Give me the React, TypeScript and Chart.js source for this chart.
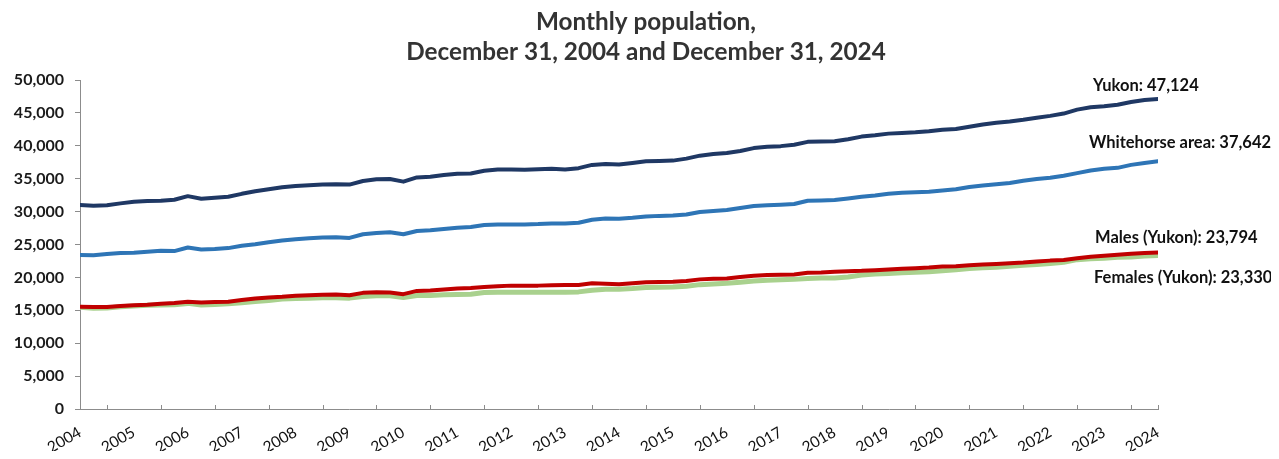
import React, { useEffect, useRef } from "react";
import { Chart, registerables } from "chart.js";

Chart.register(...registerables);

// Quarterly readings, Dec 2004 .. Dec 2024 (81 points, 3 months apart)
const FIRST_YEAR = 2004;
const LAST_YEAR = 2024;
const MONTHS_PER_POINT = 3;

const yukon = [
  31000, 30900, 30950, 31250, 31500, 31600, 31650, 31800, 32350, 31950,
  32100, 32250, 32700, 33100, 33400, 33700, 33900, 34000, 34100, 34150,
  34100, 34650, 34900, 34950, 34550, 35200, 35300, 35550, 35750, 35800,
  36200, 36400, 36400, 36350, 36450, 36500, 36400, 36600, 37100, 37250,
  37150, 37400, 37650, 37700, 37750, 38050, 38500, 38750, 38900, 39200,
  39650, 39850, 39950, 40150, 40600, 40650, 40700, 41000, 41400, 41600,
  41850, 41950, 42050, 42200, 42450, 42550, 42900, 43250, 43500, 43700,
  43950, 44250, 44550, 44900, 45500, 45850, 46000, 46250, 46650, 46950,
  47124,
];

const whitehorse = [
  23400, 23350, 23550, 23700, 23750, 23900, 24050, 24000, 24550, 24250,
  24300, 24450, 24800, 25050, 25350, 25600, 25800, 25950, 26050, 26100,
  26000, 26550, 26750, 26850, 26550, 27050, 27150, 27350, 27550, 27650,
  27950, 28050, 28050, 28050, 28100, 28200, 28200, 28300, 28750, 28950,
  28900, 29050, 29250, 29350, 29400, 29550, 29950, 30100, 30250, 30550,
  30850, 30950, 31050, 31150, 31650, 31700, 31750, 32000, 32250, 32450,
  32700, 32850, 32950, 33000, 33200, 33400, 33750, 33950, 34150, 34350,
  34700, 34950, 35150, 35450, 35850, 36250, 36500, 36650, 37100, 37400,
  37642,
];

const males = [
  15550, 15500, 15500, 15650, 15750, 15850, 16000, 16100, 16300, 16200,
  16250, 16300, 16550, 16800, 16950, 17050, 17200, 17300, 17350, 17400,
  17300, 17650, 17750, 17700, 17450, 17950, 18000, 18150, 18300, 18400,
  18550, 18650, 18750, 18750, 18750, 18800, 18850, 18850, 19100, 19050,
  18950, 19100, 19250, 19300, 19350, 19450, 19700, 19800, 19850, 20050,
  20250, 20350, 20400, 20450, 20700, 20750, 20850, 20950, 21000, 21100,
  21200, 21300, 21400, 21500, 21650, 21700, 21850, 21950, 22050, 22150,
  22250, 22400, 22550, 22650, 22900, 23150, 23300, 23450, 23600, 23700,
  23794,
];

const females = [
  15450, 15300, 15350, 15550, 15650, 15750, 15800, 15850, 16050, 15800,
  15900, 16000, 16150, 16350, 16500, 16700, 16800, 16850, 16900, 16900,
  16850, 17100, 17200, 17200, 16950, 17250, 17250, 17350, 17400, 17450,
  17700, 17750, 17750, 17750, 17750, 17750, 17750, 17800, 18050, 18200,
  18200, 18300, 18450, 18500, 18550, 18650, 18900, 19000, 19100, 19250,
  19450, 19550, 19650, 19700, 19850, 19900, 19900, 20050, 20350, 20500,
  20600, 20700, 20800, 20850, 21000, 21150, 21350, 21450, 21550, 21700,
  21850, 21950, 22100, 22300, 22700, 22850, 22900, 23050, 23100, 23250,
  23330,
];

const seriesNames = ["Yukon", "Whitehorse area", "Males (Yukon)", "Females (Yukon)"];
const seriesValues = [yukon, whitehorse, males, females];
const seriesColors = ["#1F3864", "#2E75B6", "#C00000", "#A9D18E"];
const seriesWidths = [4, 4, 4, 5];
// label offsets from each series' last point (px)
const labelOffsets = [
  { dx: -65, dy: -13 },
  { dx: -69, dy: -19 },
  { dx: -63, dy: -15 },
  { dx: -64, dy: 22 },
];

const titleLines = ["Monthly population,", "December 31, 2004 and December 31, 2024"];

const fmt = (v: number) => v.toLocaleString("en-US");

const titlePlugin = {
  id: "customTitle",
  afterDraw(chart: any) {
    const { ctx } = chart;
    ctx.save();
    ctx.font = "bold 24.3px Lato";
    ctx.fillStyle = "#333333";
    ctx.textAlign = "center";
    ctx.textBaseline = "alphabetic";
    ctx.fillText(titleLines[0], 638, 22);
    ctx.fillText(titleLines[1], 638, 52);
    ctx.restore();
  },
};

const axisMarksPlugin = {
  id: "axisMarks",
  afterDraw(chart: any) {
    const { ctx, chartArea } = chart;
    const x = chart.scales.x;
    ctx.save();
    ctx.strokeStyle = "#8c8c8c";
    ctx.lineWidth = 1;
    ctx.beginPath();
    const years = LAST_YEAR - FIRST_YEAR;
    const positions: number[] = [];
    for (let k = 0; k < years; k++) positions.push(6 + 12 * k);
    positions.push(years * 12);
    for (const v of positions) {
      const px = Math.round(x.getPixelForValue(v)) + 0.5;
      ctx.moveTo(px, chartArea.bottom - 4);
      ctx.lineTo(px, chartArea.bottom);
    }
    ctx.stroke();
    ctx.restore();
  },
};

const endLabelPlugin = {
  id: "endLabels",
  afterDatasetsDraw(chart: any) {
    const { ctx } = chart;
    ctx.save();
    ctx.font = "bold 16.5px Lato";
    ctx.fillStyle = "#111111";
    ctx.textAlign = "left";
    ctx.textBaseline = "middle";
    seriesNames.forEach((name, i) => {
      const meta = chart.getDatasetMeta(i);
      const pt = meta.data[meta.data.length - 1];
      const vals = seriesValues[i];
      const text = `${name}: ${fmt(vals[vals.length - 1])}`;
      ctx.fillText(text, pt.x + labelOffsets[i].dx, pt.y + labelOffsets[i].dy);
    });
    ctx.restore();
  },
};

export default function App() {
  const canvasRef = useRef<HTMLCanvasElement | null>(null);

  useEffect(() => {
    if (!canvasRef.current) return;
    const datasets = seriesNames.map((name, i) => ({
      label: name,
      data: seriesValues[i].map((v, j) => ({ x: j * MONTHS_PER_POINT, y: v })),
      borderColor: seriesColors[i],
      backgroundColor: seriesColors[i],
      borderWidth: seriesWidths[i],
      pointRadius: 0,
      tension: 0,
      borderJoinStyle: "round" as const,
      borderCapStyle: "round" as const,
      fill: false,
    }));

    const chart = new Chart(canvasRef.current, {
      type: "line",
      data: { datasets },
      options: {
        animation: false,
        responsive: false,
        layout: { padding: { top: 72, right: 113, bottom: 0, left: 0 } },
        plugins: {
          legend: { display: false },
          tooltip: { enabled: false },
          title: { display: false },
        },
        scales: {
          x: {
            type: "linear",
            min: 0,
            max: (LAST_YEAR - FIRST_YEAR) * 12,
            afterFit: (s: any) => {
              s.height = 42;
            },
            grid: { display: false, drawTicks: false },
            border: { display: true, color: "#8c8c8c", width: 1 },
            ticks: {
              stepSize: 12,
              autoSkip: false,
              maxRotation: 30,
              minRotation: 30,
              padding: 14,
              color: "#111111",
              font: { family: "Lato", size: 15.5 },
              callback: (v: any) => String(FIRST_YEAR + Number(v) / 12),
            },
          },
          y: {
            min: 0,
            max: 50000,
            afterFit: (s: any) => {
              s.width = 72;
            },
            grid: {
              display: true,
              drawOnChartArea: false,
              drawTicks: true,
              tickLength: 5,
              color: "#8c8c8c",
            },
            border: { display: true, color: "#8c8c8c", width: 1 },
            ticks: {
              stepSize: 5000,
              padding: 11,
              color: "#1a1a1a",
              font: { family: "Lato", size: 16, weight: "bold" },
              callback: (v: any) => fmt(Number(v)),
            },
          },
        },
      },
      plugins: [titlePlugin, axisMarksPlugin, endLabelPlugin],
    });
    return () => chart.destroy();
  }, []);

  return (
    <div style={{ width: 1263, height: 443 }}>
      <canvas ref={canvasRef} width={1263} height={443} />
    </div>
  );
}
